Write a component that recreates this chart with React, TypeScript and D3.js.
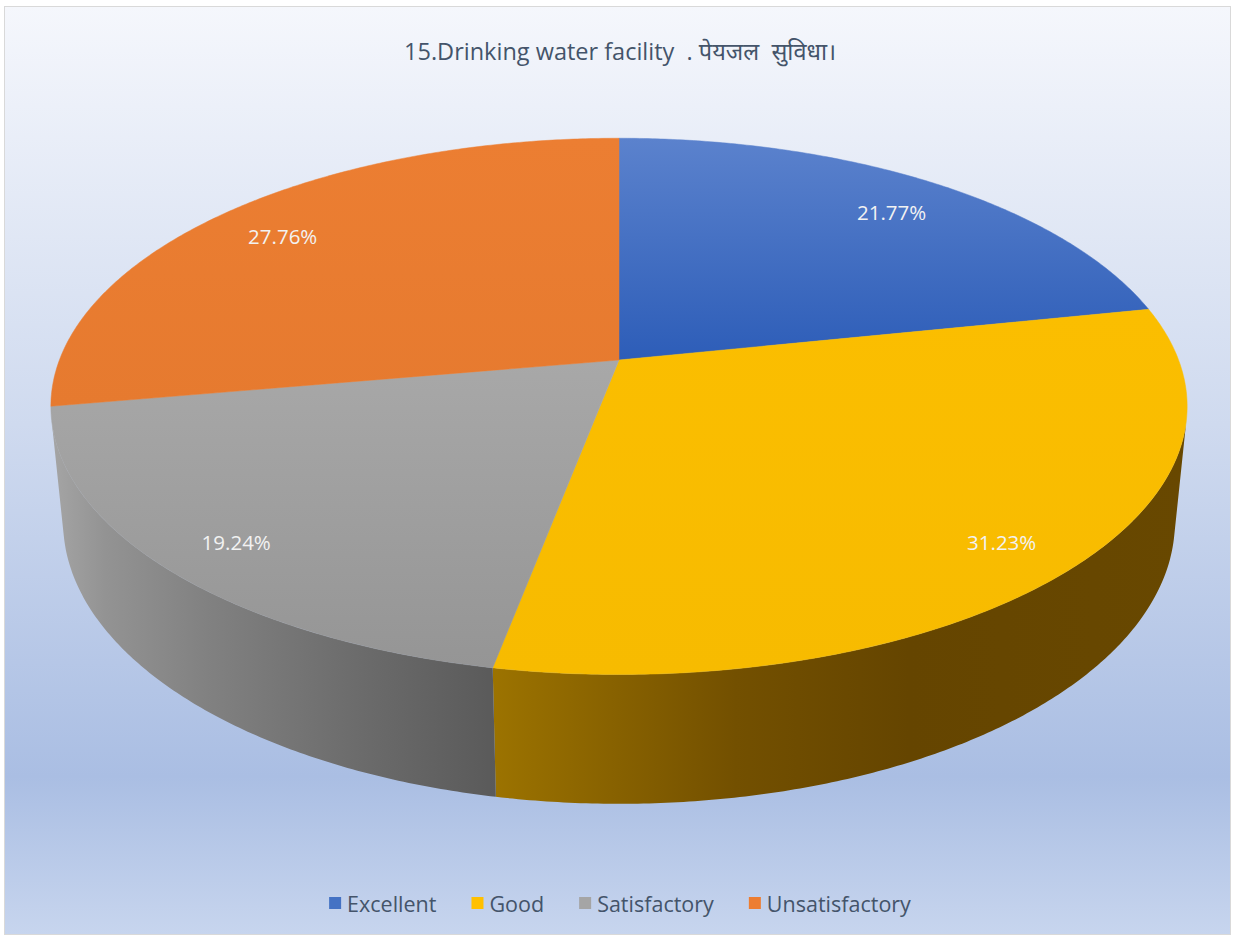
import React, { useEffect, useRef } from "react";
import * as d3 from "d3";

const categories = ["Excellent", "Good", "Satisfactory", "Unsatisfactory"];
const shares = [21.77, 31.23, 19.24, 27.76];
const colors = ["#4472C4", "#FFC000", "#A5A5A5", "#ED7D31"];
const title = "15.Drinking water facility  . पेयजल  सुविधा।";

// top-face shading (light at the back, darker toward the front)
const topShade = [
  ["#5b82cd", "#2d5db8"],
  ["#fbbe00", "#f7bb00"],
  ["#a8a8a8", "#959595"],
  ["#ec7e32", "#e67a2f"],
];
// side shading, left to right
const sideShade = [
  [["0", "#3b64b0"], ["1", "#22467f"]],
  [["0", "#9c7300"], ["0.35", "#735000"], ["0.6", "#654500"], ["1", "#684800"]],
  [["0", "#a5a5a5"], ["0.12", "#939393"], ["0.35", "#818181"], ["0.7", "#6b6b6b"], ["1", "#5a5a5a"]],
  [["0", "#c7682a"], ["1", "#8a481d"]],
];

const W = 1234;
const H = 938;
const FONT = "'Open Sans', Lato, 'Noto Sans', sans-serif";

const App = () => {
  const ref = useRef(null);

  useEffect(() => {
    const root = d3.select(ref.current);
    root.selectAll("*").remove();

    const svg = root
      .append("svg")
      .attr("width", W)
      .attr("height", H)
      .style("position", "absolute")
      .style("left", 0)
      .style("top", 0);

    const defs = svg.append("defs");
    const bg = defs.append("linearGradient").attr("id", "bg").attr("x1", 0).attr("y1", 0).attr("x2", 0).attr("y2", 1);
    [["0", "#f5f7fc"], ["0.45", "#cfdaef"], ["0.83", "#aabee3"], ["1", "#c7d5ee"]].forEach(([o, c]) =>
      bg.append("stop").attr("offset", o).attr("stop-color", c)
    );

    svg.append("rect").attr("width", W).attr("height", H).attr("fill", "#ffffff");
    svg.append("rect")
      .attr("x", 4.5).attr("y", 6.5).attr("width", 1226).attr("height", 928)
      .attr("fill", "url(#bg)")
      .attr("stroke", "#d9d9d9");

    // perspective camera for the disc
    const cx = 619, cy = 360, f = 2865, dist = 5.12, thick = 0.235;
    const tilt = (27.7 * Math.PI) / 180;
    const cs = Math.cos(tilt), sn = Math.sin(tilt);
    const project = (r, a, h) => {
      const u = r * Math.sin(a);
      const v = r * Math.cos(a);
      const depth = dist + v * cs - h * sn;
      return [cx + (f * u) / depth, cy - (f * (v * sn + h * cs)) / depth];
    };
    // side wall is visible where cos(a) < -1/(dist*cos)
    const visLim = Math.acos(-1 / (dist * cs));
    const visA = visLim, visB = 2 * Math.PI - visLim;

    const arcs = d3.pie().sort(null).value((d) => d)(shares);
    const line = d3.line();
    const sample = (a0, a1, h) => {
      const n = Math.max(2, Math.ceil(((a1 - a0) * 180) / Math.PI / 0.5));
      return d3.range(n + 1).map((i) => project(1, a0 + ((a1 - a0) * i) / n, h));
    };

    arcs.forEach((d, i) => {
      const tg = defs.append("linearGradient").attr("id", `top${i}`).attr("x1", 0).attr("y1", 0).attr("x2", 0).attr("y2", 1);
      tg.append("stop").attr("offset", 0).attr("stop-color", topShade[i][0]);
      tg.append("stop").attr("offset", 1).attr("stop-color", topShade[i][1]);
      const sg = defs.append("linearGradient").attr("id", `side${i}`).attr("x1", 0).attr("y1", 0).attr("x2", 1).attr("y2", 0);
      sideShade[i].forEach(([o, c]) => sg.append("stop").attr("offset", o).attr("stop-color", c));
    });

    const pie = svg.append("g");

    // side walls
    arcs.forEach((d, i) => {
      const a0 = Math.max(d.startAngle, visA);
      const a1 = Math.min(d.endAngle, visB);
      if (a1 <= a0) return;
      const pts = sample(a0, a1, 0).concat(sample(a0, a1, -thick).reverse());
      pie.append("path").attr("d", line(pts) + "Z").attr("fill", `url(#side${i})`);
    });

    // top faces
    arcs.forEach((d, i) => {
      const pts = [project(0, 0, 0)].concat(sample(d.startAngle, d.endAngle, 0));
      pie.append("path")
        .attr("d", line(pts) + "Z")
        .attr("fill", `url(#top${i})`)
        .attr("stroke", `url(#top${i})`)
        .attr("stroke-width", 0.5);
    });

    // data labels
    arcs.forEach((d) => {
      const mid = (d.startAngle + d.endAngle) / 2;
      const [x, y] = project(0.86, mid, 0);
      pie.append("text")
        .attr("x", x).attr("y", y + 7)
        .attr("text-anchor", "middle")
        .attr("dominant-baseline", "central")
        .attr("font-family", FONT)
        .attr("font-size", 20.5)
        .attr("fill", "#f2f2f2")
        .text(`${d.data.toFixed(2)}%`);
    });

    svg.append("text")
      .attr("x", 620).attr("y", 60)
      .attr("text-anchor", "middle")
      .attr("font-family", FONT)
      .attr("font-size", 23.5)
      .attr("fill", "#44546a")
      .style("white-space", "pre")
      .text(title);

    // legend
    const lg = svg.append("g");
    let xPos = 0;
    categories.forEach((c, i) => {
      const it = lg.append("g").attr("transform", `translate(${xPos},0)`);
      it.append("rect").attr("x", 0).attr("y", -6).attr("width", 12).attr("height", 12).attr("fill", colors[i]);
      const t = it.append("text")
        .attr("x", 18).attr("y", 0)
        .attr("dominant-baseline", "central")
        .attr("font-family", FONT)
        .attr("font-size", 21.5)
        .attr("fill", "#44546a")
        .text(c);
      xPos += 18 + t.node().getComputedTextLength() + 35;
    });
    const total = xPos - 35;
    lg.attr("transform", `translate(${620 - total / 2},903)`);
  }, []);

  return <div ref={ref}></div>;
};

export default App;
